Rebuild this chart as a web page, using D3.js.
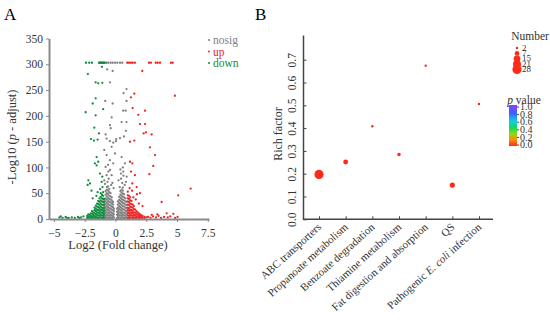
<!DOCTYPE html>
<html>
<head>
<meta charset="utf-8">
<script src="https://cdn.jsdelivr.net/npm/d3@7"></script>
<style>
  body { margin: 0; background: #fff; }
  svg text { font-family: "Liberation Serif", "DejaVu Serif", serif; }
</style>
</head>
<body>
<svg width="550" height="322"></svg>
<script>
// ---- panel A : volcano ----
var xTicksA = [-5, -2.5, 0, 2.5, 5, 7.5];
var yTicksA = [0, 50, 100, 150, 200, 250, 300, 350];

// scattered points, [log2FC, -log10 padj]
var downPts = [
  [-2.4,303],[-2.13,303],[-1.91,303],[-1.34,303],[-1.27,303],[-1.2,303],[-1.13,303],[-1.06,303],[-0.99,303],[-0.92,303],[-0.86,303],
  [-1.1,295],[-2.24,281],[-1.61,265],[-1.4,263],[-1.07,264],[-1.61,234],[-1.85,224],[-2.42,207],[-1.0,213],
  [-1.61,201],[-1.72,177],[-1.34,166],[-1.99,155],[-1.75,152],[-1.45,154],[-1.53,120],[-1.67,108],[-1.53,104],
  [-1.4,111],[-1.26,88],[-1.07,82],[-1.12,72],[-2.2,75],[-2.07,69],[-2.26,66],
  [-1.85,40],[-1.55,45],[-1.95,55],[-1.25,58],[-1.05,62],[-1.45,52],
  [-4.55,3],[-4.3,2],[-4.05,4],[-3.8,2],[-3.55,3],[-3.3,2],[-3.05,4],[-2.8,3],[-2.6,5],[-4.45,5],[-3.95,2],[-2.95,2]
];
// dense core, [log2FC, [-log10 padj ...]]
var downCore = [
  [-2.3,[2,6]],[-2.2,[1,5,9]],[-2.1,[3,8]],[-2.0,[2,6,11]],[-1.9,[1,5,10,15]],[-1.8,[3,8,13]],
  [-1.7,[2,6,11,17,22]],[-1.6,[1,5,10,15,20,26]],[-1.5,[3,8,13,18,24,30]],[-1.4,[2,7,12,17,23,29,35]],
  [-1.3,[1,6,11,16,21,27,33,40]],[-1.2,[3,8,13,18,24,30,36,43,50]],[-1.1,[2,7,12,17,22,28,34,40,47]],
  [-1.0,[1,6,11,16,21,27,33,39,45,52]],[-0.93,[3,9,15,21,27,33,39]]
];

var upPts = [
  [0.96,303],[1.1,303],[1.26,303],[1.4,303],[1.58,303],[2.72,303],[2.88,303],[3.27,303],[3.43,303],[3.62,303],[4.51,303],[4.65,303],
  [2.18,287],[1.53,243],[1.26,236],[4.83,239],[1.39,215],[2.4,210],[1.85,202],[1.99,184],[2.4,184],
  [2.48,168],[2.94,164],[2.29,166],[1.18,150],[1.53,152],[2.8,139],[3.21,124],[3.07,103],[2.75,87],
  [6.11,59],[5.1,46],[3.75,33],[4.16,11],[4.7,10],
  [1.18,111],[1.37,108],[1.26,92],[1.58,85],[1.37,69],[1.72,62],[1.99,50],
  [1.45,42],[1.65,38],[1.35,55],[1.9,30],[2.2,25],[1.15,60],[1.75,48],
  [2.65,4],[2.85,2],[3.05,5],[3.3,3],[3.5,6],[3.7,2],[3.95,4],[4.25,3],[4.45,5],[4.85,2],[5.05,4],[2.95,8],[3.4,9]
];
var upCore = [
  [1.0,[2,7,12,17,22,28,34,40,46,53]],[1.1,[1,6,11,16,21,27,33,39,45]],[1.2,[3,8,13,18,24,30,36,42]],
  [1.3,[2,7,12,17,23,29,35]],[1.4,[1,6,11,16,22,28]],[1.5,[3,8,13,19,25]],[1.6,[2,7,12,18]],
  [1.7,[1,5,10,15]],[1.8,[3,8,13]],[1.9,[2,6,11]],[2.0,[1,5,9]],[2.1,[3,7]],[2.2,[2,6]],[2.35,[1,4]],[2.5,[3]]
];

var nosigPts = [
  [-0.71,303],[-0.58,303],[-0.39,303],[-0.23,303],[-0.04,303],[0.15,303],[0.37,303],[0.55,303],
  [-0.67,290],[-0.23,287],[-0.45,265],[0.9,252],[0.66,244],[-0.83,229],[-0.23,224],[0.9,229],
  [0.63,210],[0.83,210],[-0.31,197],[0.5,188],[0.9,188],[-0.45,182],[-0.39,176],[0.85,171],[-0.8,164],
  [0.06,155],[0.37,157],[0.69,160],[-0.72,156],[-0.45,151],[-0.18,148],[0.04,151],
  [-0.91,134],[-0.72,124],[-0.31,140],[-0.45,114],[-0.04,127],[0.5,120],[0.77,108],[0.63,92],
  [0.45,88],[0.91,82],[-0.8,101],[-0.58,92],[-0.18,108],[-0.91,75],[-0.31,85],
  [-0.85,68],[-0.65,72],[-0.55,78],[-0.35,66],[-0.72,85],[-0.45,95],[-0.6,105],[-0.25,70],
  [0.35,62],[0.55,70],[0.75,66],[0.45,78],[0.65,84],[0.25,75],[0.85,72],[0.6,100],[0.4,96],[-0.15,60]
];
var nosigCore = [
  [-0.9,[2,7,12,18,24,30,37]],[-0.8,[1,6,11,16,22,28,34,40,47,54]],[-0.7,[3,8,13,19,25,31,38,44,50,57,62]],
  [-0.6,[2,7,12,17,23,29,35,41,48,55,63]],[-0.5,[1,6,11,16,21,27,33,39,45,52,58]],[-0.4,[3,8,14,20,26,32,38,44,50]],
  [-0.3,[2,7,12,18,24,30,36,42]],[-0.2,[1,6,11,17,23,28,33]],[-0.13,[3,9,15,20]],
  [0.13,[2,8,14,20]],[0.2,[1,6,11,16,22,28,34]],[0.3,[3,8,13,19,25,31,37,43]],
  [0.4,[2,7,12,17,23,29,35,41,47,54]],[0.5,[1,6,11,16,21,27,33,39,45,51,57]],
  [0.6,[3,8,13,19,25,31,37,43,49,55,61]],[0.7,[2,7,12,18,24,30,36,42,48]],
  [0.8,[1,6,11,16,22,28,34,40]],[0.9,[3,9,15,21,27,33]]
];

var groups = ["nosig", "up", "down"];
var groupColors = ["#808080", "#ee2424", "#0f8c3e"];

// ---- panel B : enrichment ----
var pathways = ["ABC transporters", "Propanoate metabolism", "Benzoate degradation",
  "Thiamine metabolism", "Fat digestion and absorption", "QS", "Pathogenic E. coli infection"];
var richFactor = [0.197, 0.251, 0.408, 0.284, 0.674, 0.150, 0.506];
var geneNumber = [28, 8, 2, 4, 2, 9, 2];
var pValue = [0.0, 0.0, 0.0, 0.0, 0.0, 0.0, 0.0];
var yTicksB = [0, 0.1, 0.2, 0.3, 0.4, 0.5, 0.6, 0.7];
var sizeLegend = [2, 7, 15, 21, 28];
var pTicks = [0, 0.2, 0.4, 0.6, 0.8, 1.0];

var SERIF = "Liberation Serif";
var svg = d3.select("svg");

function core(cols) {
  return cols.flatMap(c => c[1].map(v => [c[0], v]));
}

// ---------- A ----------
var xA = d3.scaleLinear().domain([-5.4, 7.6]).range([49, 209]);
var yA = d3.scaleLinear().domain([0, 350]).range([219, 38.5]);

svg.append("text").attr("x", 4).attr("y", 20).attr("font-size", 17).text("A");

var gA = svg.append("g");
var seriesA = {
  nosig: nosigPts.concat(core(nosigCore)),
  up: upPts.concat(core(upCore)),
  down: downPts.concat(core(downCore))
};
groups.forEach((g, i) => {
  gA.append("g").selectAll("circle")
    .data(seriesA[g])
    .join("circle")
    .attr("cx", d => xA(d[0]))
    .attr("cy", d => yA(d[1]))
    .attr("r", 1.15)
    .attr("fill", groupColors[i]);
});

var axA = svg.append("g").attr("transform", "translate(0,219)")
  .call(d3.axisBottom(xA).tickValues(xTicksA).tickSize(3).tickSizeOuter(0).tickFormat(d3.format("")));
var ayA = svg.append("g").attr("transform", "translate(49,0)")
  .call(d3.axisLeft(yA).tickValues(yTicksA).tickSize(3).tickSizeOuter(0));
[axA, ayA].forEach(a => {
  a.attr("font-family", SERIF);
  a.select(".domain").attr("stroke", "#8a8a8a").attr("stroke-width", 2);
  a.selectAll(".tick line").attr("stroke", "#8a8a8a");
  a.selectAll("text").attr("font-size", 11.5).attr("fill", "#333");
});
axA.selectAll("text").attr("dy", "1.05em");

svg.append("text").attr("x", 118).attr("y", 249).attr("text-anchor", "middle")
  .attr("font-size", 12.5).attr("fill", "#333").text("Log2 (Fold change)");
var ytA = svg.append("text").attr("transform", "translate(16,137) rotate(-90)")
  .attr("text-anchor", "middle").attr("font-size", 12.5).attr("fill", "#333");
ytA.append("tspan").text("-Log10 (");
ytA.append("tspan").attr("font-style", "italic").text("p");
ytA.append("tspan").text(" - adjust)");

var legA = svg.append("g");
groups.forEach((g, i) => {
  legA.append("circle").attr("cx", 209).attr("cy", 40 + i * 11.5).attr("r", 1).attr("fill", groupColors[i]);
  legA.append("text").attr("x", 213).attr("y", 44 + i * 11.5).attr("font-size", 11.5)
    .attr("fill", groupColors[i]).text(g);
});

// ---------- B ----------
svg.append("text").attr("x", 255).attr("y", 20).attr("font-size", 17).text("B");

var xB = d3.scalePoint().domain(pathways).range([319, 479]);
var yB = d3.scaleLinear().domain([0, 0.8]).range([219.3, 36.9]);
var rB = d3.scaleSqrt().domain([0, 28]).range([0, 4.6]);
var colB = d3.scaleLinear()
  .domain([0, 0.15, 0.3, 0.45, 0.6, 0.8, 1.0])
  .range(["#ff2a1a", "#ff8a10", "#8cdc10", "#10d860", "#10d0e0", "#3a60ff", "#8a40ff"]);

var axB = svg.append("g").attr("transform", "translate(0,219.3)")
  .call(d3.axisBottom(xB).tickSize(-3).tickSizeOuter(0).tickFormat(""));
axB.select(".domain").remove();
var ayB = svg.append("g").attr("transform", "translate(303.5,0)").attr("font-family", SERIF)
  .call(d3.axisLeft(yB).tickValues(yTicksB).tickSize(-3).tickSizeOuter(0).tickFormat(d3.format(".1f")));
ayB.select(".domain").remove();
svg.append("line").attr("x1", 303.5).attr("x2", 493).attr("y1", 219.3).attr("y2", 219.3)
  .attr("stroke", "#444").attr("stroke-width", 1.5);
svg.append("line").attr("x1", 303.5).attr("x2", 303.5).attr("y1", 35.5).attr("y2", 220)
  .attr("stroke", "#444").attr("stroke-width", 1.5);
[axB, ayB].forEach(a => a.selectAll(".tick line").attr("stroke", "#444"));
ayB.selectAll("text")
  .attr("font-size", 11.5).attr("fill", "#333")
  .attr("text-anchor", "middle").attr("x", 0)
  .attr("transform", "translate(-12,0) rotate(-90)").attr("dy", "0.35em");

pathways.forEach(p => {
  var t = svg.append("text")
    .attr("transform", "translate(" + (xB(p) + 3) + ",228) rotate(-42)")
    .attr("text-anchor", "end").attr("font-size", 11).attr("fill", "#333");
  if (p.indexOf("E. coli") >= 0) {
    t.append("tspan").text("Pathogenic ");
    t.append("tspan").attr("font-style", "italic").text("E. coli");
    t.append("tspan").text(" infection");
  } else {
    t.text(p);
  }
});

svg.append("text").attr("transform", "translate(282,134) rotate(-90)")
  .attr("text-anchor", "middle").attr("font-size", 12).attr("fill", "#333").text("Rich factor");

svg.append("g").selectAll("circle")
  .data(pathways)
  .join("circle")
  .attr("cx", d => xB(d))
  .attr("cy", (d, i) => yB(richFactor[i]))
  .attr("r", (d, i) => rB(geneNumber[i]))
  .attr("fill", (d, i) => colB(pValue[i]));

// size legend
svg.append("text").attr("x", 530).attr("y", 40).attr("text-anchor", "middle")
  .attr("font-size", 11.5).attr("fill", "#333").text("Number");
var legY = d3.scalePoint().domain(sizeLegend).range([48, 69.5]);
sizeLegend.forEach(n => {
  svg.append("circle").attr("cx", 517).attr("cy", legY(n)).attr("r", rB(n)).attr("fill", colB(0));
  svg.append("text").attr("x", 522).attr("y", legY(n) + 2.5).attr("font-size", 9)
    .attr("fill", "#333").text(n);
});

// colour legend
var pt = svg.append("text").attr("x", 524).attr("y", 103.5).attr("text-anchor", "middle")
  .attr("font-size", 11.5).attr("fill", "#333");
pt.append("tspan").attr("font-style", "italic").text("p");
pt.append("tspan").text(" value");

var grad = svg.append("defs").append("linearGradient").attr("id", "pgrad")
  .attr("x1", 0).attr("y1", 1).attr("x2", 0).attr("y2", 0);
grad.selectAll("stop").data(colB.domain()).join("stop")
  .attr("offset", d => d).attr("stop-color", d => colB(d));
var yP = d3.scaleLinear().domain([0, 1]).range([144.5, 106.5]);
svg.append("rect").attr("x", 509).attr("y", 105).attr("width", 8).attr("height", 41)
  .attr("fill", "url(#pgrad)");
var pax = svg.append("g").attr("transform", "translate(517,0)").attr("font-family", SERIF)
  .call(d3.axisRight(yP).tickValues(pTicks).tickSize(2).tickPadding(1).tickFormat(d3.format(".1f")));
pax.select(".domain").remove();
pax.selectAll(".tick line").attr("stroke", "#444");
pax.selectAll("text").attr("font-size", 10).attr("fill", "#333");
</script>
</body>
</html>
